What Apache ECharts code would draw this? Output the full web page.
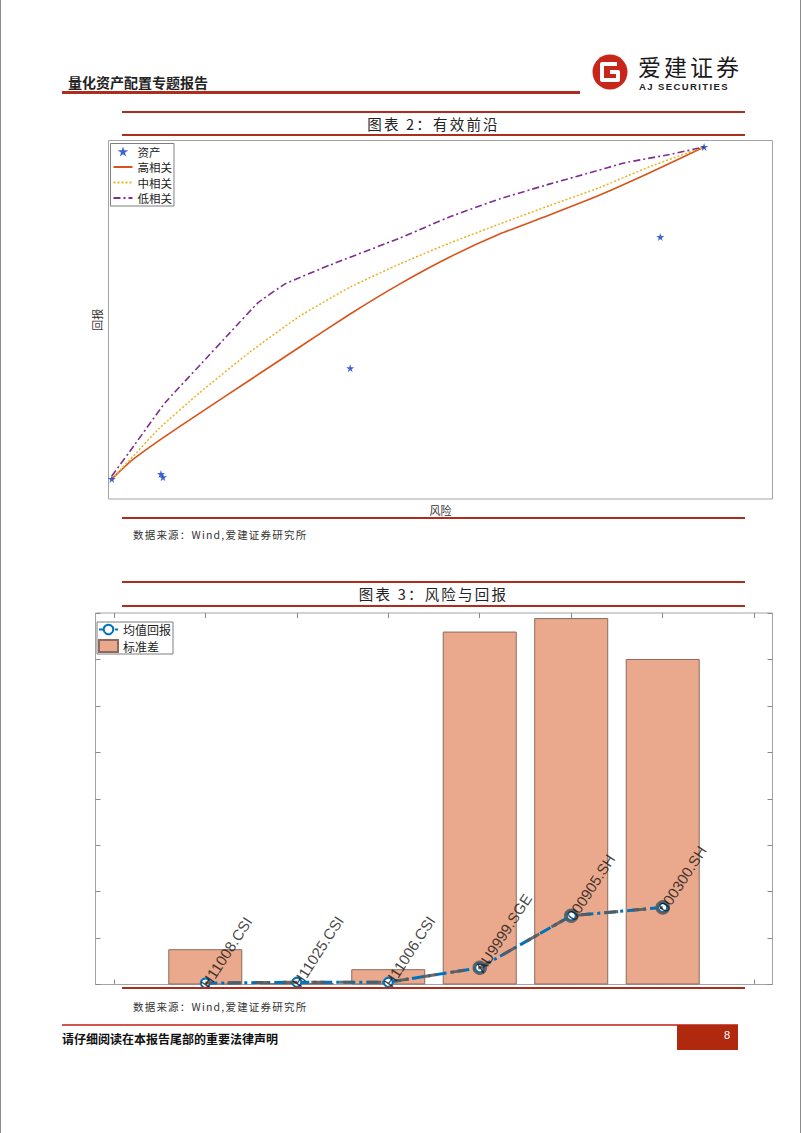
<!DOCTYPE html>
<html>
<head>
<meta charset="utf-8">
<script src="https://cdn.jsdelivr.net/npm/echarts@6.0.0/dist/echarts.min.js"></script>
<style>
html,body{margin:0;padding:0;background:#fff;}
#page{position:relative;width:802px;height:1133px;overflow:hidden;font-family:"Noto Sans CJK SC",sans-serif;background:#fff;}
.abs{position:absolute;}
.red{background:#ae2d1c;}
.title{position:absolute;left:122px;width:623px;text-align:center;font-size:14.5px;letter-spacing:2.2px;color:#222;line-height:18px;}
.src{position:absolute;left:133px;font-size:10.5px;color:#333;line-height:14px;letter-spacing:1.2px;}
#chart{position:absolute;left:0;top:0;width:802px;height:1133px;z-index:2;}
</style>
</head>
<body>
<div id="page">
  <div class="abs" style="left:0;top:0;width:1px;height:1133px;background:#8c8c8c"></div>
  <div class="abs" style="left:800px;top:0;width:1px;height:1133px;background:#8c8c8c"></div>

  <!-- header -->
  <div class="abs" style="left:68px;top:73px;font-size:14px;font-weight:bold;color:#222;line-height:18px;">量化资产配置专题报告</div>
  <div class="abs red" style="left:62px;top:91px;width:518px;height:3px;"></div>
  <svg class="abs" style="left:590px;top:52px" width="42" height="42" viewBox="0 0 42 42">
    <circle cx="20" cy="20" r="17.5" fill="#c9261b"/>
    <path d="M27 12 L12 12 L12 28 L28 28 L28 20 L20 20" fill="none" stroke="#fff" stroke-width="4" stroke-linejoin="round"/>
  </svg>
  <div class="abs" style="left:638px;top:53px;font-size:23px;color:#1a1a1a;line-height:26px;letter-spacing:3px;">爱建证券</div>
  <div class="abs" style="left:639px;top:81px;font-size:9.5px;font-weight:bold;font-family:'Liberation Sans',sans-serif;color:#222;letter-spacing:1.4px;line-height:11px;">AJ SECURITIES</div>

  <!-- chart 2 title -->
  <div class="abs red" style="left:122px;top:111px;width:623px;height:2px;"></div>
  <div class="title" style="top:115px;">图表 2：有效前沿</div>
  <div class="abs red" style="left:122px;top:134px;width:623px;height:2px;"></div>
  <div class="abs red" style="left:122px;top:517px;width:623px;height:2px;"></div>
  <div class="src" style="top:528px;">数据来源：Wind,爱建证券研究所</div>

  <!-- chart 3 title -->
  <div class="abs red" style="left:122px;top:581px;width:623px;height:2px;"></div>
  <div class="title" style="top:585px;">图表 3：风险与回报</div>
  <div class="abs red" style="left:122px;top:605px;width:623px;height:2px;"></div>
  <div class="abs red" style="left:122px;top:987px;width:623px;height:2px;z-index:3"></div>
  <div class="src" style="top:1000px;">数据来源：Wind,爱建证券研究所</div>

  <!-- footer -->
  <div class="abs" style="left:62px;top:1024px;width:676px;height:2px;background:#d0564c;"></div>
  <div class="abs" style="left:62px;top:1030px;font-size:12px;font-weight:bold;color:#111;line-height:17px;">请仔细阅读在本报告尾部的重要法律声明</div>
  <div class="abs" style="left:677px;top:1025px;width:61px;height:25px;background:#b0290f;"></div>
  <div class="abs" style="left:724px;top:1028px;font-size:11px;color:#fff;font-family:'Liberation Sans',sans-serif;line-height:14px;">8</div>

  <div id="chart"></div>
</div>
<script>
// ---------- Chart 2: efficient frontier (axes in relative units) ----------
const assetRisk   = [0.5, 7.9, 8.2, 36.4, 83.1, 89.7];
const assetReturn = [5.6, 7.0, 6.1, 36.5, 73.1, 98.2];

const highRisk   = [0.5, 3.2, 7.7, 13.7, 21.3, 28.8, 36.4, 43.9, 51.4, 58.9, 66.5, 74.0, 81.5, 89.7];
const highReturn = [5.6, 10.3, 16.4, 23.9, 33.2, 42.4, 51.6, 60.0, 67.5, 73.9, 79.3, 84.8, 91.0, 98.2];

const midRisk    = [0.5, 3.2, 7.7, 13.7, 21.3, 28.8, 36.4, 43.9, 51.4, 58.9, 66.5, 74.0, 81.5, 89.7];
const midReturn  = [5.6, 10.9, 19.8, 29.6, 41.0, 51.0, 59.1, 65.6, 71.4, 76.7, 81.9, 86.9, 92.7, 98.2];

const lowRisk    = [0.5, 4.0, 8.5, 13.8, 18.3, 22.5, 26.6, 33.4, 43.9, 51.4, 58.9, 66.5, 72.5, 77.8, 84.5, 89.7];
const lowReturn  = [6.4, 15.3, 26.8, 37.4, 46.4, 54.7, 60.0, 65.3, 72.8, 78.7, 83.7, 87.9, 91.0, 93.8, 96.1, 98.2];

// ---------- Chart 3: risk and return ----------
const assets     = ['H11008.CSI', 'H11025.CSI', 'H11006.CSI', 'AU9999.SGE', '000905.SH', '000300.SH'];
const stdDev     = [0.76, 0.03, 0.33, 7.60, 7.89, 7.01];
const meanReturn = [0.03, 0.05, 0.05, 0.36, 1.48, 1.66];
const xTicks     = [0, 1, 2, 3, 4, 5, 6, 7];

const zip = (a, b) => a.map((v, i) => [v, b[i]]);
const catPos = assets.map((_, i) => i + 1);
const starPath = 'path://M50,0 L61,35 L98,35 L68,57 L79,91 L50,70 L21,91 L32,57 L2,35 L39,35 Z';
const cjk = '"Noto Sans CJK SC", sans-serif';
const boxColor = '#a3a3a3';
const grayLine = 'rgba(90,90,90,0.9)';

const hiddenAxis = {axisLine:{show:false, onZero:false}, axisTick:{show:false}, axisLabel:{show:false}, splitLine:{show:false}};
const tickX = (pos) => ({
  gridIndex:1, type:'value', min:-0.2, max:7.2, position:pos,
  axisLine:{show:false, onZero:false}, axisLabel:{show:false}, splitLine:{show:false},
  axisTick:{show:true, inside:true, length:5, customValues:xTicks, lineStyle:{color:'#8a8a8a'}}
});
const tickY = (pos) => ({
  gridIndex:1, type:'value', min:0, max:8, interval:1, position:pos,
  axisLine:{show:false, onZero:false}, axisLabel:{show:false}, splitLine:{show:false},
  axisTick:{show:true, inside:true, length:5, lineStyle:{color:'#8a8a8a'}}
});
const noSym = {opacity:0};

const chart = echarts.init(document.getElementById('chart'), null, {renderer:'svg', width:802, height:1133});
chart.setOption({
  animation:false,
  backgroundColor:'transparent',
  grid:[
    {left:108.5, top:140.5, width:664, height:358.5, show:true, borderColor:boxColor, borderWidth:1, backgroundColor:'rgba(0,0,0,0)'},
    {left:95.5, top:613, width:677, height:371.5, show:true, borderColor:boxColor, borderWidth:1, backgroundColor:'rgba(0,0,0,0)'}
  ],
  xAxis:[
    Object.assign({gridIndex:0, type:'value', min:0, max:100, name:'风险', nameLocation:'middle', nameGap:5,
      nameTextStyle:{fontFamily:cjk, fontSize:11, color:'#333', verticalAlign:'top'}}, hiddenAxis),
    tickX('bottom'),
    tickX('top')
  ],
  yAxis:[
    Object.assign({gridIndex:0, type:'value', min:0, max:100, name:'回报', nameLocation:'middle', nameGap:6,
      nameTextStyle:{fontFamily:cjk, fontSize:11, color:'#333'}}, hiddenAxis),
    tickY('left'),
    tickY('right')
  ],
  legend:[
    {left:110.5, top:143.5, orient:'vertical',
     data:[{name:'资产'}, {name:'高相关', itemStyle:noSym}, {name:'中相关', itemStyle:noSym}, {name:'低相关', itemStyle:noSym}],
     itemWidth:19, itemHeight:10, itemGap:3.5, padding:[2,2,2,2],
     borderColor:'#7f7f7f', borderWidth:1, backgroundColor:'#fff',
     textStyle:{fontFamily:cjk, fontSize:11.5, color:'#222', lineHeight:12}},
    {left:97, top:622, orient:'vertical', data:[{name:'均值回报'}, {name:'标准差', icon:'rect'}],
     itemWidth:19, itemHeight:12, itemGap:3, padding:[1,2,1,1],
     borderColor:'#7f7f7f', borderWidth:1, backgroundColor:'#fff',
     textStyle:{fontFamily:cjk, fontSize:12, color:'#222', lineHeight:13}}
  ],
  series:[
    {name:'高相关', type:'line', xAxisIndex:0, yAxisIndex:0, data:zip(highRisk, highReturn), symbol:'none', smooth:0.15,
     lineStyle:{color:'#d95319', width:1.6}, itemStyle:{color:'#d95319'}},
    {name:'中相关', type:'line', xAxisIndex:0, yAxisIndex:0, data:zip(midRisk, midReturn), symbol:'none', smooth:0.15,
     lineStyle:{color:'#edb120', width:1.5, type:[2,2]}, itemStyle:{color:'#edb120'}},
    {name:'低相关', type:'line', xAxisIndex:0, yAxisIndex:0, data:zip(lowRisk, lowReturn), symbol:'none', smooth:0.1,
     lineStyle:{color:'#7e2f8e', width:1.6, type:[7,3,2,3]}, itemStyle:{color:'#7e2f8e'}},
    {name:'资产', type:'scatter', xAxisIndex:0, yAxisIndex:0, data:zip(assetRisk, assetReturn), symbol:starPath,
     symbolSize:8, itemStyle:{color:'#0d3fc4'}, z:5},

    {name:'标准差', type:'bar', xAxisIndex:1, yAxisIndex:1, data:zip(catPos, stdDev), barWidth:74,
     itemStyle:{color:'#eaa98c', borderColor:'#8b6b5d', borderWidth:1}},
    {name:'均值回报', type:'line', xAxisIndex:1, yAxisIndex:1, data:zip(catPos, meanReturn),
     symbol:'emptyCircle', symbolSize:9, z:3,
     lineStyle:{color:'#0072bd', width:3, type:[12,4,3,4]},
     itemStyle:{color:'#0072bd', borderColor:'#0072bd', borderWidth:2.5}},
    {name:'overlay', type:'line', xAxisIndex:1, yAxisIndex:1, data:zip(catPos, meanReturn),
     symbol:'circle', symbolSize:(v, p) => p.dataIndex >= 3 ? 12 : 0, z:4,
     lineStyle:{color:grayLine, width:3, type:[14,14], dashOffset:6},
     itemStyle:{color:'rgba(0,0,0,0)', borderColor:grayLine, borderWidth:2.5}},
    {name:'labels', type:'scatter', xAxisIndex:1, yAxisIndex:1, data:zip(catPos, meanReturn),
     symbolSize:2, itemStyle:{color:'rgba(0,0,0,0)'}, z:6, silent:true,
     label:{show:true, position:'inside', align:'left', verticalAlign:'middle', rotate:57,
       formatter:(p) => assets[p.dataIndex], fontFamily:'"Liberation Sans", Arial, sans-serif',
       fontSize:15, color:'#111', offset:[-3,1]}}
  ]
});
</script>
</body>
</html>
